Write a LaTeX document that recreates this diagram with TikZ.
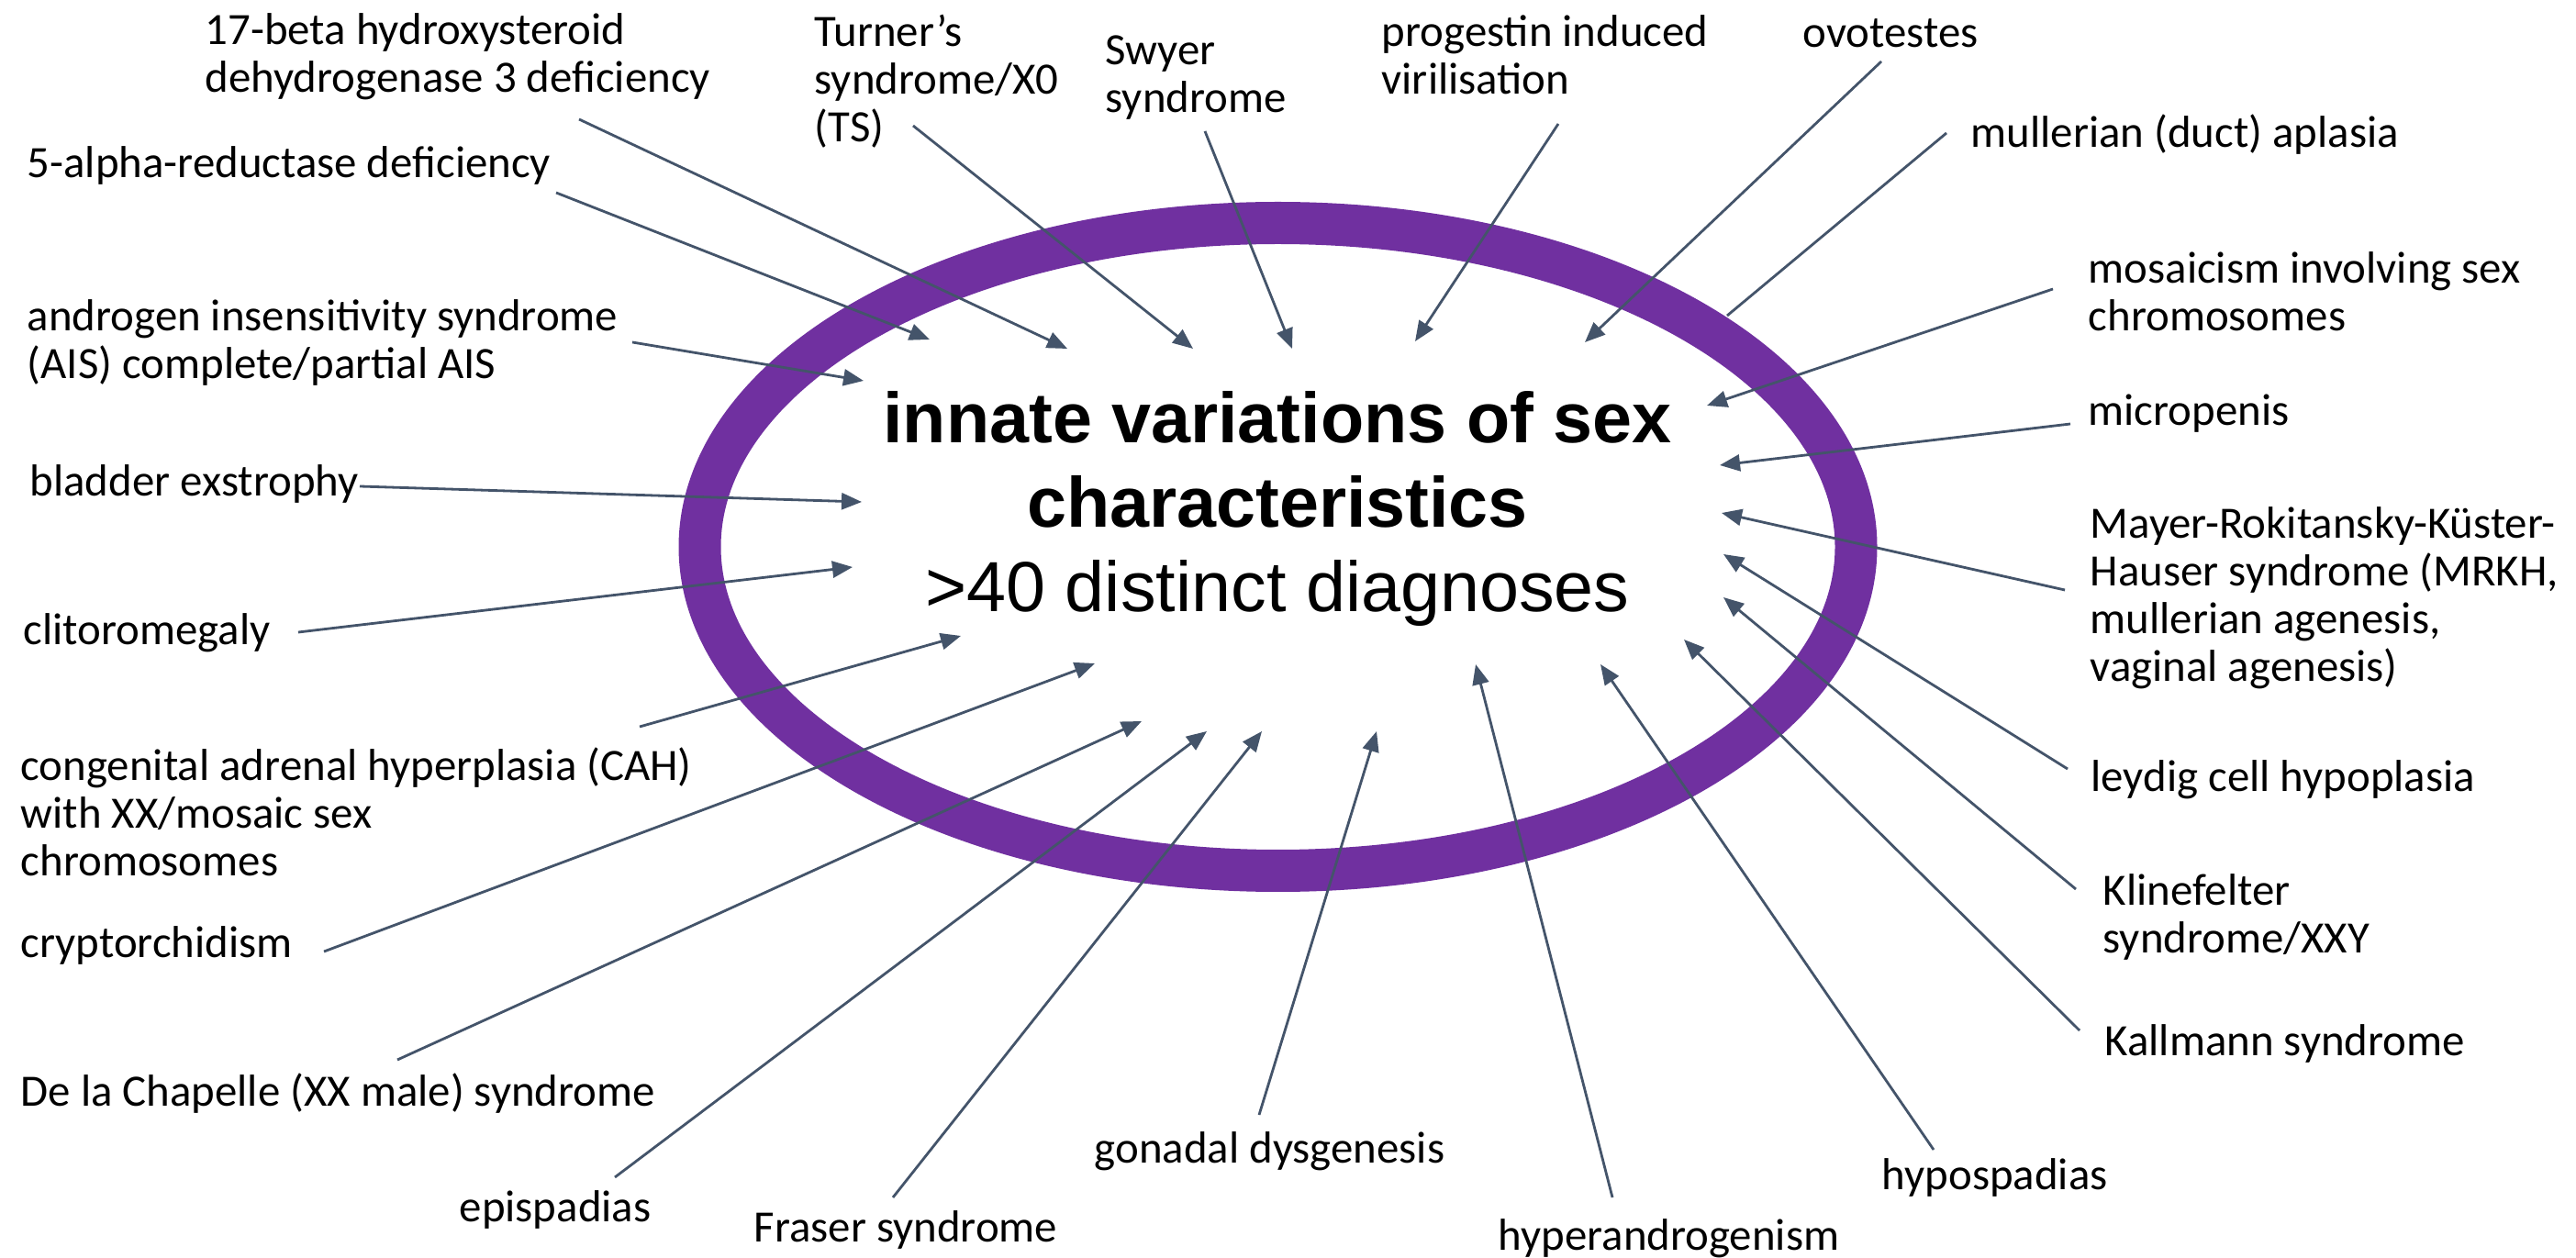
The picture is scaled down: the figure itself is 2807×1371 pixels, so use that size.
\documentclass[tikz,border=0pt]{standalone}
\usepackage{fontspec}
\setmainfont{Carlito}
\newfontfamily\arialfont{Liberation Sans}
\usetikzlibrary{arrows.meta}
\definecolor{ringpurple}{HTML}{7030A0}
\definecolor{arrowgray}{HTML}{44546A}
\begin{document}
\begin{tikzpicture}[x=0.1mm,y=-0.1mm,
  lbl/.style={font=\fontsize{13.9}{14.8}\selectfont, align=left, anchor=west, inner sep=0pt, text=black},
  arr/.style={draw=arrowgray, line width=0.28mm, -{Triangle[length=2.2mm,width=1.8mm]}},
  plainline/.style={draw=arrowgray, line width=0.28mm},
  ring/.style={draw=ringpurple, line width=4.6mm}]
\useasboundingbox (0,0) rectangle (2807,1371);
\fill[white] (0,0) rectangle (2807,1371);
% central ring
\coordinate (c) at (1392.5,596);
\draw[ring] (c) ellipse [x radius=63mm, y radius=35.3mm];
\node[font=\arialfont\fontsize{22}{26.3}\selectfont, align=center, inner sep=0pt] (title) at (1392,554.5)
  {\textbf{innate variations of sex}\\\textbf{characteristics}\\>40 distinct diagnoses};
% labels
\node[lbl] (l17b) at (223,62) {17-beta hydroxysteroid\\dehydrogenase 3 deficiency};
\node[lbl] (lturner) at (887,89) {Turner’s\\syndrome/X0\\(TS)};
\node[lbl] (lswyer) at (1204,85) {Swyer\\syndrome};
\node[lbl] (lprog) at (1505,60) {progestin induced\\virilisation};
\node[lbl] (lovo) at (1964,36) {ovotestes};
\node[lbl] (lmull) at (2147,147) {mullerian (duct) aplasia};
\node[lbl] (lmosaic) at (2275,318) {mosaicism involving sex\\chromosomes};
\node[lbl] (lmicro) at (2275,451) {micropenis};
\node[lbl] (lmrkh) at (2277,652) {Mayer-Rokitansky-Küster-\\Hauser syndrome (MRKH,\\mullerian agenesis,\\vaginal agenesis)};
\node[lbl] (lleydig) at (2278,850) {leydig cell hypoplasia};
\node[lbl] (lklin) at (2291,999) {Klinefelter\\syndrome/XXY};
\node[lbl] (lkall) at (2293,1137) {Kallmann syndrome};
\node[lbl] (lhypo) at (2050,1283) {hypospadias};
\node[lbl] (lhyper) at (1632,1350) {hyperandrogenism};
\node[lbl] (lgon) at (1192,1255) {gonadal dysgenesis};
\node[lbl] (lfraser) at (821,1340) {Fraser syndrome};
\node[lbl] (lepi) at (500,1318) {epispadias};
\node[lbl] (ldela) at (22,1192) {De la Chapelle (XX male) syndrome};
\node[lbl] (lcrypt) at (22,1030) {cryptorchidism};
\node[lbl] (lcah) at (22,885) {congenital adrenal hyperplasia (CAH)\\with XX/mosaic sex\\chromosomes};
\node[lbl] (lclit) at (25,690) {clitoromegaly};
\node[lbl] (lblad) at (32,527) {bladder exstrophy};
\node[lbl] (lais) at (29,373) {androgen insensitivity syndrome\\(AIS) complete/partial AIS};
\node[lbl] (l5a) at (29,180) {5-alpha-reductase deficiency};
% connector ends
\coordinate (s17b) at (631,130);   \coordinate (t17b) at (1163,380);
\coordinate (sturner) at (995,137); \coordinate (tturner) at (1300,380);
\coordinate (sswyer) at (1313,143); \coordinate (tswyer) at (1408,380);
\coordinate (sprog) at (1698,135);  \coordinate (tprog) at (1542,372);
\coordinate (sovo) at (2050,67);    \coordinate (tovo) at (1727,373);
\coordinate (smull) at (2121,145);  \coordinate (tmull) at (1882,344);
\coordinate (smosaic) at (2237,315);\coordinate (tmosaic) at (1860,442);
\coordinate (smicro) at (2256,462); \coordinate (tmicro) at (1874,507);
\coordinate (smrkh) at (2250,643);  \coordinate (tmrkh) at (1876,559);
\coordinate (sleydig) at (2253,838);\coordinate (tleydig) at (1878,604);
\coordinate (sklin) at (2262,969);  \coordinate (tklin) at (1878,651);
\coordinate (skall) at (2266,1123); \coordinate (tkall) at (1835,697);
\coordinate (shypo) at (2107,1253); \coordinate (thypo) at (1744,724);
\coordinate (shyper) at (1757,1305);\coordinate (thyper) at (1608,724);
\coordinate (sgon) at (1372,1215);  \coordinate (tgon) at (1500,797);
\coordinate (sfraser) at (973,1305);\coordinate (tfraser) at (1375,797);
\coordinate (sepi) at (670,1283);   \coordinate (tepi) at (1315,797);
\coordinate (sdela) at (433,1155);  \coordinate (tdela) at (1244,786);
\coordinate (scrypt) at (353,1037); \coordinate (tcrypt) at (1193,723);
\coordinate (scah) at (697,792);    \coordinate (tcah) at (1047,693);
\coordinate (sclit) at (325,689);   \coordinate (tclit) at (929,618);
\coordinate (sblad) at (392,530);   \coordinate (tblad) at (939,547);
\coordinate (sais) at (689,373);    \coordinate (tais) at (941,415);
\coordinate (s5a) at (606,210);     \coordinate (t5a) at (1013,370);
% connectors
\foreach \n in {17b,turner,swyer,prog,ovo,mosaic,micro,mrkh,leydig,klin,kall,hypo,hyper,gon,fraser,epi,dela,crypt,cah,clit,blad,ais,5a}
  \draw[arr] (s\n) -- (t\n);
\draw[plainline] (smull) -- (tmull);
\end{tikzpicture}
\end{document}
